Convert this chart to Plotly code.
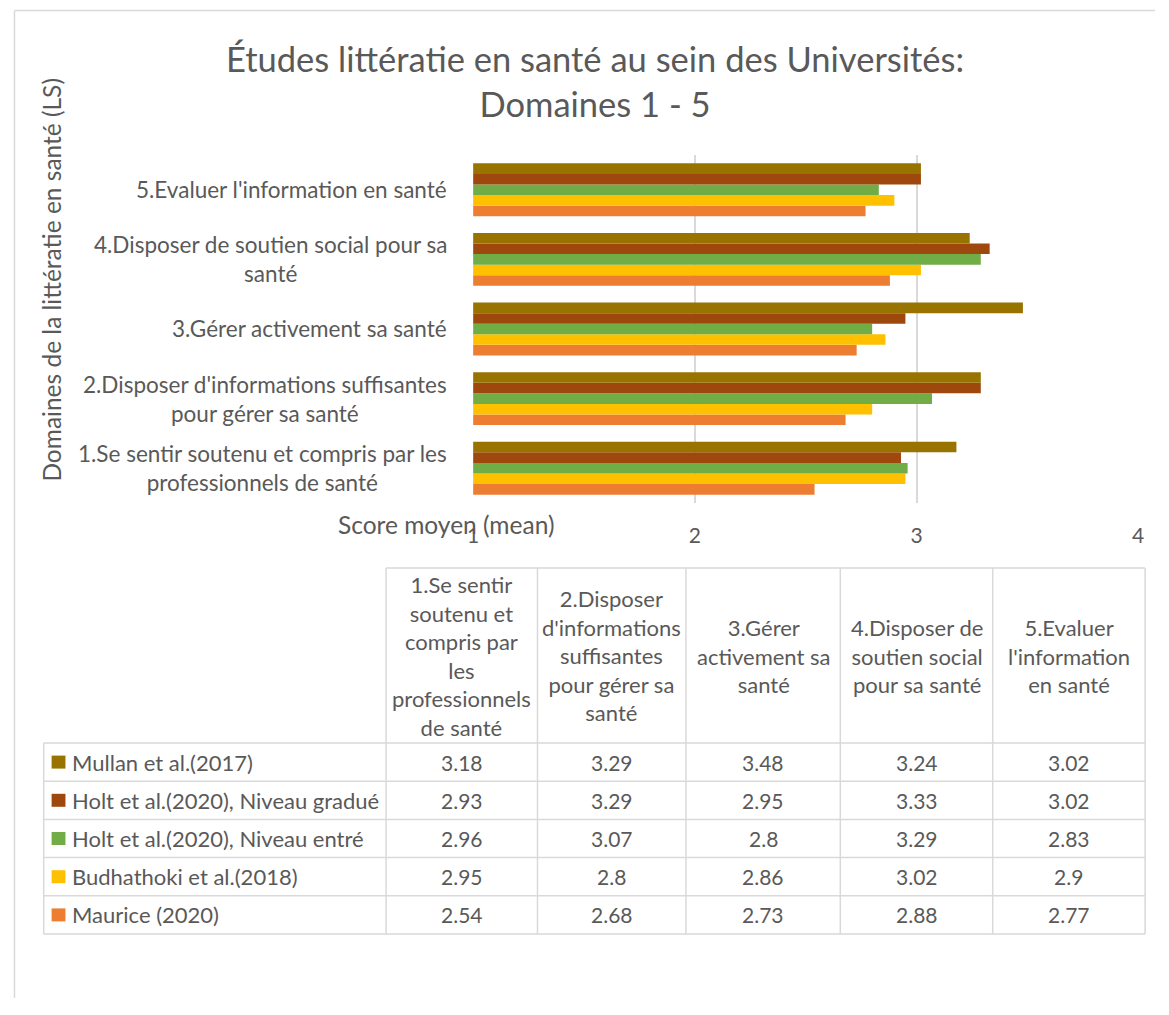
import plotly.graph_objects as go

# chart data
domains = [
    "1.Se sentir soutenu et compris par les professionnels de santé",
    "2.Disposer d'informations suffisantes pour gérer sa santé",
    "3.Gérer activement sa santé",
    "4.Disposer de soutien social pour sa santé",
    "5.Evaluer l'information en santé",
]
# wrapped labels left of the bars
domain_axis_labels = [
    "1.Se sentir soutenu et compris par les<br>professionnels de santé",
    "2.Disposer d'informations suffisantes<br>pour gérer sa santé",
    "3.Gérer activement sa santé",
    "4.Disposer de soutien social pour sa<br>santé",
    "5.Evaluer l'information en santé",
]
# wrapped labels for the data table header
domain_table_labels = [
    "1.Se sentir<br>soutenu et<br>compris par<br>les<br>professionnels<br>de santé",
    "2.Disposer<br>d'informations<br>suffisantes<br>pour gérer sa<br>santé",
    "3.Gérer<br>activement sa<br>santé",
    "4.Disposer de<br>soutien social<br>pour sa santé",
    "5.Evaluer<br>l'information<br>en santé",
]

studies = [
    "Mullan et al.(2017)",
    "Holt et al.(2020), Niveau gradué",
    "Holt et al.(2020), Niveau entré",
    "Budhathoki et al.(2018)",
    "Maurice (2020)",
]
study_colors = ["#997300", "#9E480E", "#70AD47", "#FFC000", "#ED7D31"]

mullan = [3.18, 3.29, 3.48, 3.24, 3.02]
holt_gradue = [2.93, 3.29, 2.95, 3.33, 3.02]
holt_entre = [2.96, 3.07, 2.8, 3.29, 2.83]
budhathoki = [2.95, 2.8, 2.86, 3.02, 2.9]
maurice = [2.54, 2.68, 2.73, 2.88, 2.77]
study_values = [mullan, holt_gradue, holt_entre, budhathoki, maurice]

# page has an 8px body margin, so the figure is a bit smaller than the window
OFF = 8
FW, FH = 1169 - 2 * OFF, 990
FONT = "Lato"
GREY = "#595959"
LINE = "#d9d9d9"


def fx(px):
    return (px - OFF) / FW


def fy(py):
    return 1 - (py - OFF) / FH


fig = go.Figure()

# bars: last study first so Mullan sits on top of each group (like Excel)
for name, color, vals in reversed(list(zip(studies, study_colors, study_values))):
    fig.add_trace(go.Bar(
        y=domains,
        x=vals,
        name=name,
        orientation="h",
        marker=dict(color=color, line=dict(width=0)),
        showlegend=False,
    ))

annotations = []
shapes = []

# labels left of the bar groups
for d, lab in zip(domains, domain_axis_labels):
    annotations.append(dict(
        x=fx(448), y=d, xref="paper", yref="y", text=lab, showarrow=False,
        xanchor="right", yanchor="middle", align="center",
        font=dict(family=FONT, size=22.5, color=GREY),
    ))

annotations += [
    dict(x=fx(595), y=fy(81.5), xref="paper", yref="paper",
         text="Études littératie en santé au sein des Universités:<br>Domaines 1 - 5",
         showarrow=False, xanchor="center", yanchor="middle", align="center",
         font=dict(family=FONT, size=34.5, color=GREY)),
    dict(x=fx(45), y=fy(280), xref="paper", yref="paper",
         text="Domaines de la littératie en santé (LS)", textangle=-90,
         showarrow=False, xanchor="center", yanchor="middle",
         font=dict(family=FONT, size=24.5, color=GREY)),
    dict(x=fx(445), y=fy(524), xref="paper", yref="paper",
         text="Score moyen (mean)", showarrow=False,
         xanchor="center", yanchor="middle",
         font=dict(family=FONT, size=24.5, color=GREY)),
]

# ---- data table under the chart ----
col_x = [38, 384, 537, 687, 843, 997, 1151]
head_top, head_bot, tab_bot = 568, 743, 934
row_h = (tab_bot - head_bot) / len(studies)
row_y = [head_bot + i * row_h for i in range(len(studies) + 1)]


def hline(y, x0, x1):
    return dict(type="line", xref="paper", yref="paper",
                x0=fx(x0), x1=fx(x1), y0=fy(y), y1=fy(y),
                line=dict(color=LINE, width=1.5))


def vline(x, y0, y1):
    return dict(type="line", xref="paper", yref="paper",
                x0=fx(x), x1=fx(x), y0=fy(y0), y1=fy(y1),
                line=dict(color=LINE, width=1.5))


shapes.append(hline(head_top, col_x[1], col_x[-1]))
for y in row_y:
    shapes.append(hline(y, col_x[0], col_x[-1]))
shapes.append(vline(col_x[0], head_bot, tab_bot))
for x in col_x[1:]:
    shapes.append(vline(x, head_top, tab_bot))

# header texts
for i, lab in enumerate(domain_table_labels):
    annotations.append(dict(
        x=fx((col_x[i + 1] + col_x[i + 2]) / 2), y=fy((head_top + head_bot) / 2),
        xref="paper", yref="paper", text=lab, showarrow=False,
        xanchor="center", yanchor="middle", align="center",
        font=dict(family=FONT, size=22, color=GREY),
    ))

# rows: legend key + study name + values
for r, (name, color, vals) in enumerate(zip(studies, study_colors, study_values)):
    yc = row_y[r] + row_h / 2
    shapes.append(dict(type="rect", xref="paper", yref="paper",
                       x0=fx(46), x1=fx(60), y0=fy(yc - 6.5), y1=fy(yc + 6.5),
                       fillcolor=color, line=dict(width=0)))
    annotations.append(dict(
        x=fx(65), y=fy(yc), xref="paper", yref="paper", text=name,
        showarrow=False, xanchor="left", yanchor="middle",
        font=dict(family=FONT, size=22, color=GREY),
    ))
    for c, v in enumerate(vals):
        annotations.append(dict(
            x=fx((col_x[c + 1] + col_x[c + 2]) / 2), y=fy(yc),
            xref="paper", yref="paper", text=str(v), showarrow=False,
            xanchor="center", yanchor="middle",
            font=dict(family=FONT, size=21, color=GREY),
        ))

# outer chart frame (left and top edges visible)
shapes.append(dict(type="line", xref="paper", yref="paper",
                   x0=fx(8.5), x1=fx(8.5), y0=0, y1=fy(10.5),
                   line=dict(color=LINE, width=1.5)))
shapes.append(dict(type="line", xref="paper", yref="paper",
                   x0=fx(8.5), x1=1, y0=fy(10.5), y1=fy(10.5),
                   line=dict(color=LINE, width=1.5)))

fig.update_layout(
    width=FW,
    height=FH,
    margin=dict(l=0, r=0, t=0, b=0),
    paper_bgcolor="white",
    plot_bgcolor="white",
    barmode="group",
    bargap=0.24,
    bargroupgap=0,
    font=dict(family=FONT, color=GREY),
    annotations=annotations,
    shapes=shapes,
    xaxis=dict(
        domain=[fx(472), fx(1144)],
        range=[1, 4],
        dtick=1,
        showgrid=True,
        gridcolor=LINE,
        gridwidth=1.5,
        zeroline=False,
        showline=False,
        ticks="",
        ticklabelstandoff=18,
        tickfont=dict(family=FONT, size=21, color=GREY),
    ),
    yaxis=dict(
        domain=[fy(503), fy(155)],
        categoryorder="array",
        categoryarray=domains,
        showticklabels=False,
        showgrid=False,
        zeroline=False,
        showline=False,
    ),
)

fig.write_html("out.html")
